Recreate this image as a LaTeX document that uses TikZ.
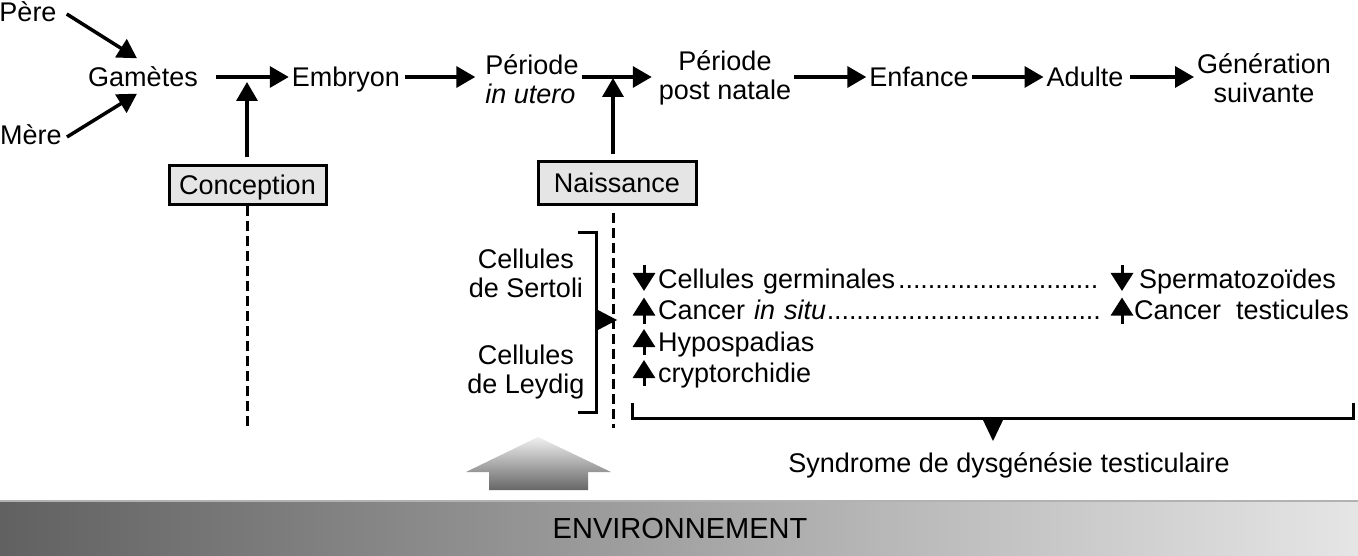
\documentclass[tikz,border=0pt]{standalone}
\usepackage{fontspec}
\setmainfont{Liberation Sans}
\usetikzlibrary{positioning,calc,arrows.meta,shadings}

\newcommand{\dotrule}{\cleaders\hbox to 7.4pt{\hss.\hss}\hskip 0pt plus 1fill\null}

\begin{document}
\begin{tikzpicture}[x=1pt, y=-1pt,
    stage/.style={font=\fontsize{27}{29}\selectfont, inner sep=3pt, text height=19pt, text depth=0pt},
    stagetwo/.style={font=\fontsize{27}{29}\selectfont, inner sep=3pt, align=center},
    event/.style={draw=black, line width=3pt, fill=black!10, minimum width=157pt, minimum height=39pt, inner sep=0pt, text height=19pt, text depth=0pt, font=\fontsize{27}{29}\selectfont},
    arr/.style={line width=3.5pt, -{Triangle[length=19pt,width=21pt]}},
    cut/.style={line width=3pt, dash pattern=on 10pt off 5pt},
    brk/.style={line width=3pt},
    item/.style={font=\fontsize{27}{29}\selectfont, inner sep=0pt, anchor=base west},
    trend/.style={line width=3pt, -{Triangle[length=18pt,width=22pt]}}
]

\fill[white] (0,0) rectangle (1358,556);
\useasboundingbox (0,0) rectangle (1358,556);

% Parents and stages
\node[stage] (pere) at (28,12) {Père};
\node[stage] (mere) at (31,135) {Mère};
\node[stage] (gametes) at (143,77) {Gamètes};
\node[stage] (embryon) at (346,77) {Embryon};
\node[stagetwo, align=left] (utero) at (532,79) {Période\\\textit{in utero}};
\node[stagetwo] (postnat) at (725,78) {Période\\post natale};
\node[stage] (enfance) at (919,77) {Enfance};
\node[stage] (adulte) at (1085,77) {Adulte};
\node[stagetwo] (generation) at (1264,78) {Génération\\suivante};

\draw[arr] ([xshift=7pt,yshift=-2pt]pere.east) -- ([xshift=-6pt,yshift=6pt]gametes.north);
\draw[arr] ([xshift=2pt,yshift=-2pt]mere.east) -- ([xshift=-6pt,yshift=-4pt]gametes.south);
\draw[arr, shorten <=15pt] (gametes.east) -- (embryon.west);
\draw[arr, shorten <=2pt, shorten >=7pt] (embryon.east) -- (embryon.east -| utero.west);
\draw[arr, shorten >=4pt] (utero.east |- embryon.east) -- (postnat.west |- embryon.east);
\draw[arr] (postnat.east |- enfance.west) -- (enfance.west);
\draw[arr] (enfance.east) -- (adulte.west);
\draw[arr, shorten <=4pt] (adulte.east) -- (adulte.east -| generation.west);

% Conception and birth
\node[event] (conception) at (247.5,185) {Conception};
\node[event, minimum width=158pt, minimum height=43pt] (naissance) at (617,183.5) {Naissance};

\coordinate (conc-tip) at (247,82);
\coordinate (conc-end) at (247,428);
\coordinate (nais-tip) at (613,78);
\coordinate (nais-end) at (613,428);

\draw[arr, shorten <=7pt] (conc-tip |- conception.north) -- (conc-tip);
\draw[arr, shorten <=6pt] (nais-tip |- naissance.north) -- (nais-tip);
\draw[cut] (conc-tip |- conception.south) -- (conc-end);
\draw[cut, shorten <=7pt] (nais-tip |- naissance.south) -- (nais-end);

% Sertoli / Leydig
\node[stagetwo] (sertoli) at (526,273) {Cellules\\de Sertoli};
\node[stagetwo] (leydig) at (526,372) {Cellules\\de Leydig};
\coordinate (brk-top) at (578,233);
\coordinate (brk-bot) at (578,412);
\draw[brk] (brk-top) -- ++(18,0) |- (brk-bot);
\fill (596,309) -- (617,320) -- (596,331) -- cycle;

% Effects
\node[item, text width=443pt] (germ) at (658,288) {Cellules germinales\dotrule};
\node[item, text width=443pt] (cis) at (658,319.5) {Cancer \textit{in situ}\dotrule};
\node[item] (hypo) at (658,351) {Hypospadias};
\node[item] (crypto) at (658,382) {cryptorchidie};
\node[item] (sperm) at (1139,288) {Spermatozoïdes};
\node[item] (ktest) at (1134,319.5) {Cancer\ \ testicules};

\draw[trend] ([shift={(-14pt,23pt)}]germ.base west) -- ++(0pt,-26pt);
\draw[trend] ([shift={(-14pt,-4pt)}]cis.base west) -- ++(0pt,26pt);
\draw[trend] ([shift={(-14pt,-4pt)}]hypo.base west) -- ++(0pt,26pt);
\draw[trend] ([shift={(-14pt,-4pt)}]crypto.base west) -- ++(0pt,26pt);
\draw[trend] ([shift={(-17pt,23pt)}]sperm.base west) -- ++(0pt,-26pt);
\draw[trend] ([shift={(-12pt,-4pt)}]ktest.base west) -- ++(0pt,26pt);

% Syndrome
\node[stage, text depth=6pt] (syndrome) at (1009,466) {Syndrome de dysgénésie testiculaire};
\draw[brk] (632,403) |- (1353,418) -- (1353,403);
\fill (982,418) -- (1004,418) -- (993,441) -- cycle;

% Environment
\shade[top color=black!6, bottom color=black!60]
  (538,437) -- (611,472) -- (588,472) -- (588,490) -- (489,490) -- (489,472) -- (466,472) -- cycle;
\shade[left color=black!62, right color=black!10] (0,500) rectangle (1358,556);
\draw[black!30, line width=1.5pt] (0,500.75) -- (1358,500.75);
\node[font=\fontsize{29}{31}\selectfont] (env) at (680,529) {ENVIRONNEMENT};

\end{tikzpicture}
\end{document}
